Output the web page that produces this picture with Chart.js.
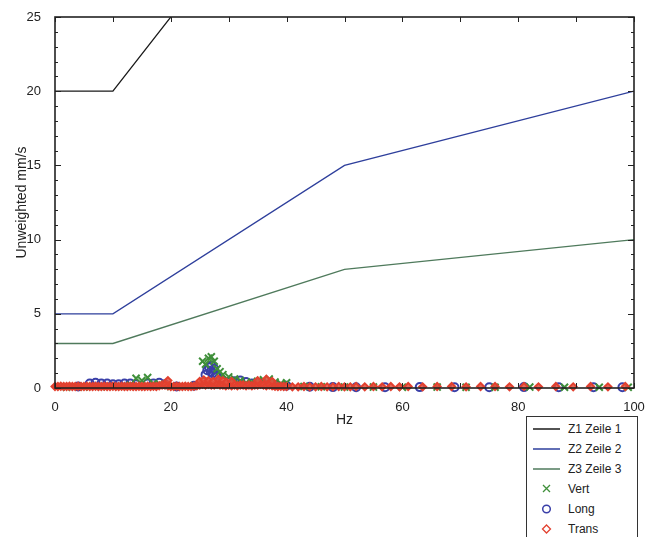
<!DOCTYPE html>
<html>
<head>
<meta charset="utf-8">
<script src="https://cdn.jsdelivr.net/npm/chart.js@4.4.1/dist/chart.umd.min.js"></script>
<style>
  body { margin: 0; background: #fff; }
  #wrap { position: relative; width: 660px; height: 537px; }
  #legend {
    position: absolute; left: 526px; top: 416px; width: 110px; height: 130px;
    border: 1px solid #333; background: #fff;
    font-family: "Liberation Sans", Arial, sans-serif; font-size: 12px; color: #222;
  }
  .row { position: absolute; left: 0; width: 110px; height: 20px; line-height: 20px; }
  .row svg { position: absolute; left: 6px; top: 3px; }
  .row span { position: absolute; left: 41px; }
</style>
</head>
<body>
<div id="wrap">
  <canvas id="chart" width="660" height="537"></canvas>
  <div id="legend"></div>
</div>
<script>
// limit curves
const limitHz = [0, 10, 50, 100];
const z1 = [20, 20, 40, 50];
const z2 = [5, 5, 15, 20];
const z3 = [3, 3, 8, 10];

// measured peaks
const vertHz = [2, 5, 8, 11, 13, 14, 15, 16, 17, 18, 20, 22, 24, 25.5, 26, 26.5, 27, 27.5, 28, 28.5, 29, 30, 31, 32, 33, 34, 35, 36, 37, 38, 39, 40, 43, 46, 50, 55, 60, 66, 71, 76, 82, 88, 94, 99];
const vertVal = [0.05, 0.06, 0.08, 0.1, 0.2, 0.65, 0.5, 0.7, 0.3, 0.25, 0.1, 0.1, 0.15, 1.8, 1.6, 2.0, 2.1, 1.8, 1.3, 1.1, 0.9, 0.75, 0.6, 0.5, 0.35, 0.4, 0.45, 0.55, 0.6, 0.4, 0.3, 0.35, 0.1, 0.08, 0.06, 0.06, 0.05, 0.06, 0.05, 0.05, 0.06, 0.05, 0.05, 0.05];

const longHz = [4, 6, 7, 8, 9, 10, 11, 12, 13, 14, 16, 17, 18, 19, 21, 24, 26, 26.3, 26.6, 26.9, 27, 27.2, 27.5, 27.8, 28, 29, 30, 31, 32, 33, 34, 35, 36, 38, 40, 44, 48, 52, 57, 63, 69, 75, 81, 87, 93, 98];
const longVal = [0.1, 0.3, 0.35, 0.3, 0.3, 0.25, 0.25, 0.3, 0.3, 0.25, 0.3, 0.3, 0.35, 0.25, 0.1, 0.15, 0.9, 1.2, 1.4, 1.1, 1.5, 1.0, 1.3, 0.9, 0.8, 0.5, 0.4, 0.45, 0.5, 0.4, 0.3, 0.35, 0.3, 0.2, 0.15, 0.08, 0.06, 0.05, 0.05, 0.06, 0.05, 0.05, 0.06, 0.05, 0.05, 0.05];

const transHz = [0, 0.5, 1, 1.5, 2, 2.5, 3, 3.5, 4, 4.5, 5, 5.5, 6, 6.5, 7, 7.5, 8, 8.5, 9, 9.5,
  10, 10.5, 11, 11.5, 12, 12.5, 13, 13.5, 14, 14.5, 15, 15.5, 16, 16.5, 17, 17.5, 18, 18.5, 19, 19.5,
  20, 20.5, 21, 21.5, 22, 22.5, 23, 23.5, 24, 24.5, 25, 25.5, 26, 26.5, 27, 27.5, 28, 28.5, 29, 29.5,
  30, 30.5, 31, 31.5, 32, 32.5, 33, 33.5, 34, 34.5, 35, 35.5, 36, 36.5, 37, 37.5, 38, 38.5, 39, 39.5, 40,
  19.5, 25, 25.7, 26.5, 27.3, 28.2, 29, 29.6, 30.5, 35, 36.5, 37.5,
  41, 42, 43, 44, 45, 46, 47, 48, 49, 50, 51, 52, 53.5, 55, 56.5, 58, 59.5,
  61, 63.5, 66, 68.5, 71, 73.5, 76, 78.5, 81, 83.5, 86.5, 89.5, 92.5, 95.5, 98.5];
const transVal = [0.1, 0.1, 0.12, 0.1, 0.1, 0.12, 0.1, 0.1, 0.12, 0.1, 0.1, 0.12, 0.1, 0.1, 0.12, 0.1, 0.1, 0.12, 0.1, 0.1,
  0.12, 0.1, 0.1, 0.12, 0.1, 0.1, 0.12, 0.1, 0.1, 0.12, 0.1, 0.1, 0.12, 0.1, 0.12, 0.1, 0.15, 0.2, 0.2, 0.15,
  0.1, 0.1, 0.12, 0.1, 0.1, 0.12, 0.1, 0.1, 0.12, 0.15, 0.2, 0.25, 0.2, 0.25, 0.2, 0.2, 0.25, 0.2, 0.2, 0.15,
  0.2, 0.15, 0.2, 0.15, 0.2, 0.2, 0.15, 0.2, 0.15, 0.2, 0.2, 0.25, 0.2, 0.15, 0.2, 0.15, 0.12, 0.1, 0.12, 0.1, 0.1,
  0.5, 0.45, 0.55, 0.5, 0.45, 0.6, 0.5, 0.4, 0.45, 0.5, 0.6, 0.45,
  0.08, 0.08, 0.1, 0.08, 0.08, 0.1, 0.08, 0.08, 0.1, 0.08, 0.08, 0.1, 0.08, 0.1, 0.08, 0.1, 0.08,
  0.1, 0.08, 0.1, 0.1, 0.08, 0.1, 0.1, 0.08, 0.1, 0.08, 0.1, 0.08, 0.1, 0.08, 0.1];

const xMax = 100, yMax = 25;

function pts(xs, ys) {
    return xs.map((x, i) => ({ x: x, y: ys[i] }));
}

// order: lower values are painted on top
const series = [
    { label: 'Z1 Zeile 1', kind: 'line', color: '#1a1a1a', order: 0, data: pts(limitHz, z1) },
    { label: 'Z2 Zeile 2', kind: 'line', color: '#2e3f9c', order: 0, data: pts(limitHz, z2) },
    { label: 'Z3 Zeile 3', kind: 'line', color: '#4f7a5c', order: 0, data: pts(limitHz, z3) },
    { label: 'Vert', kind: 'crossRot', color: '#3f8f3a', radius: 5, order: 2, fill: 'rgba(0,0,0,0)', data: pts(vertHz, vertVal) },
    { label: 'Long', kind: 'circle', color: '#3a3fa8', radius: 4, order: 3, fill: 'rgba(0,0,0,0)', data: pts(longHz, longVal) },
    { label: 'Trans', kind: 'rectRot', color: '#e2402f', radius: 3.5, order: 1, fill: 'rgba(228,80,62,0.85)', data: pts(transHz, transVal) }
];

const datasets = series.map(s => s.kind === 'line' ? {
    type: 'line', label: s.label, data: s.data, order: s.order,
    borderColor: s.color, borderWidth: 1.3, pointRadius: 0, tension: 0
} : {
    type: 'scatter', label: s.label, data: s.data, clip: 8, order: s.order,
    pointStyle: s.kind, pointRadius: s.radius, borderColor: s.color,
    backgroundColor: s.fill, pointBorderWidth: 2
});

// inward ticks + frame, like the original plot
const innerTicks = {
    id: 'innerTicks',
    afterDraw(chart) {
        const { ctx, chartArea: a, scales: { x, y } } = chart;
        ctx.save();
        ctx.strokeStyle = '#222';
        ctx.lineWidth = 1;
        ctx.beginPath();
        for (let v = 0; v <= xMax; v += 10) {
            const px = Math.round(x.getPixelForValue(v)) + 0.5;
            ctx.moveTo(px, a.bottom); ctx.lineTo(px, a.bottom - 5);
            ctx.moveTo(px, a.top); ctx.lineTo(px, a.top + 5);
        }
        for (let v = 0; v <= yMax; v++) {
            const py = Math.round(y.getPixelForValue(v)) + 0.5;
            const len = v % 5 === 0 ? 6 : 3;
            ctx.moveTo(a.left, py); ctx.lineTo(a.left + len, py);
            ctx.moveTo(a.right, py); ctx.lineTo(a.right - len, py);
        }
        ctx.stroke();
        ctx.lineWidth = 1.6;
        ctx.strokeRect(a.left, a.top, a.right - a.left, a.bottom - a.top);
        ctx.restore();
    }
};

const font = { family: '"Liberation Sans", Arial, sans-serif', size: 13 };

new Chart(document.getElementById('chart').getContext('2d'), {
    data: { datasets: datasets },
    options: {
        responsive: false,
        animation: false,
        layout: { padding: { left: 0, top: 17, right: 26, bottom: 104 } },
        plugins: { legend: { display: false }, tooltip: { enabled: false } },
        scales: {
            x: {
                type: 'linear', min: 0, max: xMax,
                grid: { display: false }, border: { display: false },
                ticks: { stepSize: 20, font: font, color: '#222', padding: 4 },
                title: { display: true, text: 'Hz', font: { family: font.family, size: 14 }, color: '#222', padding: { top: 6 } },
                afterFit: s => { s.height = 45; }
            },
            y: {
                type: 'linear', min: 0, max: yMax,
                grid: { display: false }, border: { display: false },
                ticks: { stepSize: 5, font: font, color: '#222', padding: 6 },
                title: { display: true, text: 'Unweighted mm/s', font: { family: font.family, size: 14 }, color: '#222', padding: { top: 14, bottom: 0 } },
                afterFit: s => { s.width = 55; }
            }
        }
    },
    plugins: [innerTicks]
});

// legend box in the lower right corner
const legend = document.getElementById('legend');
series.forEach((s, i) => {
    const row = document.createElement('div');
    row.className = 'row';
    row.style.top = (2 + i * 20) + 'px';
    let icon;
    if (s.kind === 'line') {
        icon = '<line x1="0" y1="7" x2="27" y2="7" stroke="' + s.color + '" stroke-width="1.5"/>';
    } else if (s.kind === 'crossRot') {
        icon = '<path d="M10 3 L17 10 M17 3 L10 10" stroke="' + s.color + '" stroke-width="1.3" fill="none"/>';
    } else if (s.kind === 'circle') {
        icon = '<circle cx="13.5" cy="7" r="3.8" stroke="' + s.color + '" stroke-width="1.5" fill="none"/>';
    } else {
        icon = '<path d="M13.5 3 L17.5 7 L13.5 11 L9.5 7 Z" stroke="' + s.color + '" stroke-width="1.3" fill="none"/>';
    }
    row.innerHTML = '<svg width="28" height="14">' + icon + '</svg><span>' + s.label + '</span>';
    legend.appendChild(row);
});
</script>
</body>
</html>
